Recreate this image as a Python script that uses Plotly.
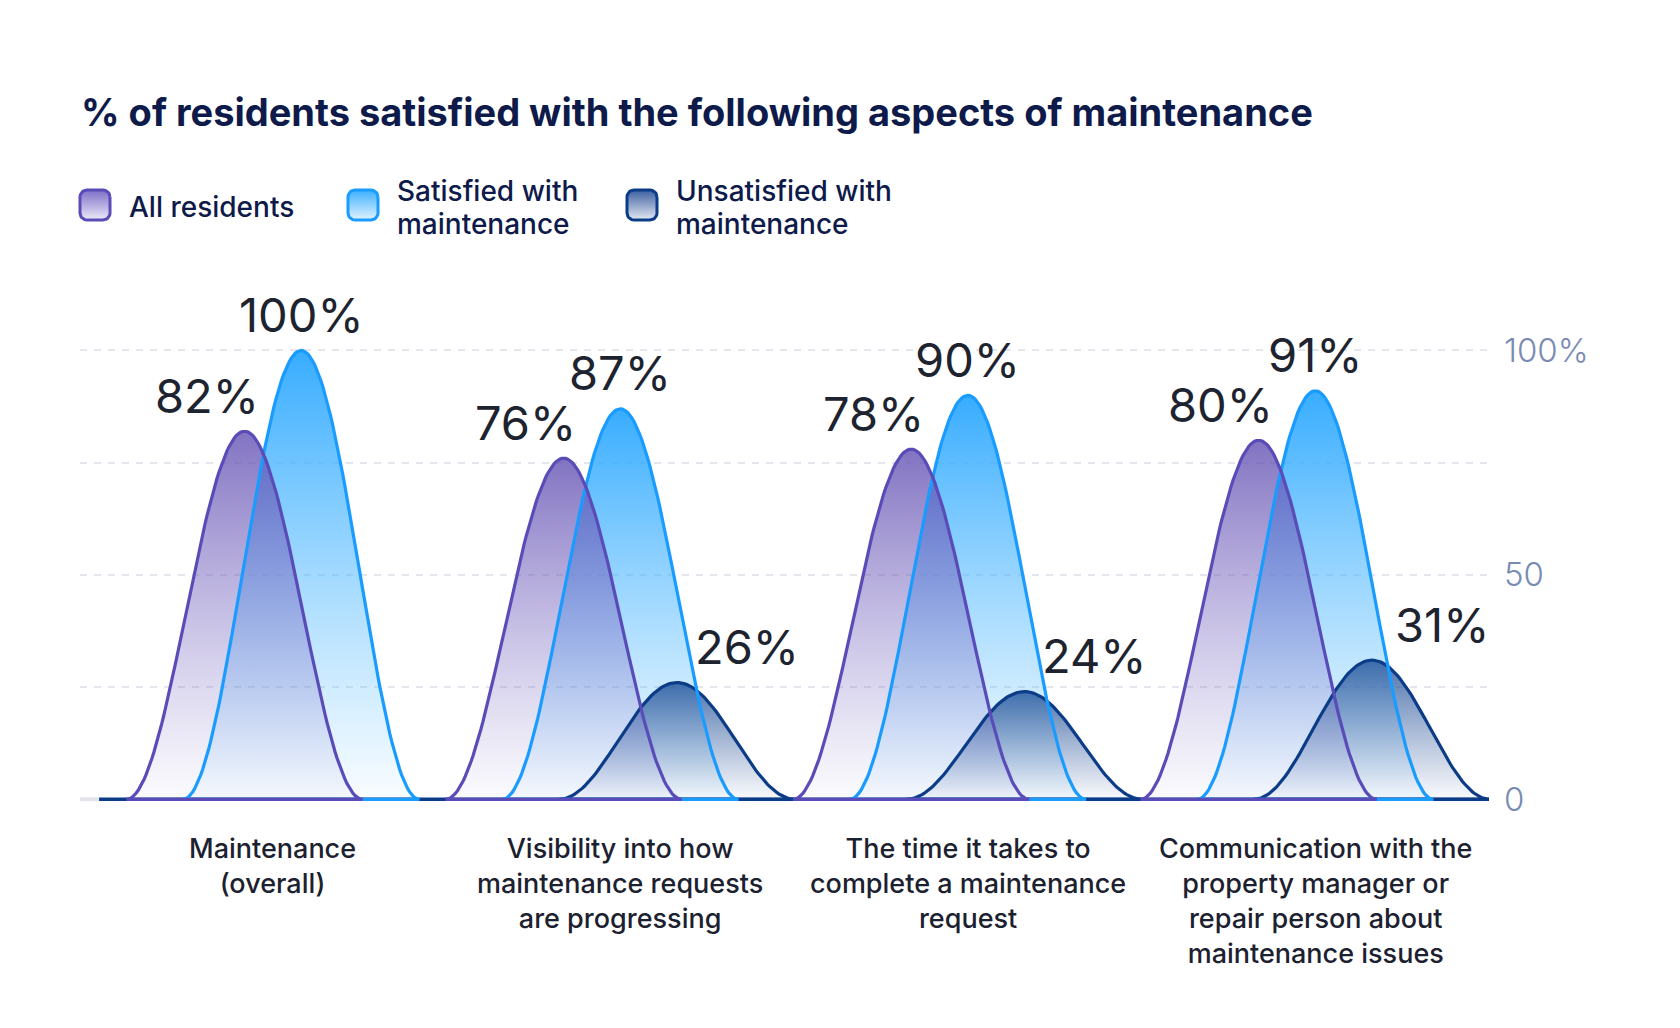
import numpy as np
import plotly.graph_objects as go

# ---------------- data ----------------
categories = [
    "Maintenance<br>(overall)",
    "Visibility into how<br>maintenance requests<br>are progressing",
    "The time it takes to<br>complete a maintenance<br>request",
    "Communication with the<br>property manager or<br>repair person about<br>maintenance issues",
]
all_residents = [82, 76, 78, 80]
satisfied = [100, 87, 90, 91]
unsatisfied = [None, 26, 24, 31]
series_names = ["All residents", "Satisfied with<br>maintenance", "Unsatisfied with<br>maintenance"]
y_tick_vals = [0, 25, 50, 75, 100]
y_tick_text = ["0", "", "50", "", "100%"]
title_text = "% of residents satisfied with the following aspects of maintenance"

series_values = [all_residents, satisfied, unsatisfied]

# ---------------- layout constants ----------------
W, H = 1680, 1028
ML, MR, MT, MB = 60, 180, 150, 224
PW, PH = W - ML - MR, H - MT - MB


def px_x(x):
    return (x - ML) / PW


def px_y(y):
    return (H - MB - y) / PH


STEP = 0.163   # offset between neighbouring bumps (category units)
HW = 0.34      # half width of a bump (category units)

FONT = "Inter"
styles = [
    dict(line="#5a4cb8", top="rgba(98,80,178,0.80)", bot="rgba(140,125,205,0.03)", dx=-38,
         icon_top="rgba(120,104,196,0.95)", icon_bot="rgba(238,235,250,1)"),
    dict(line="#1a9cff", top="rgba(45,168,255,0.95)", bot="rgba(90,190,255,0.04)", dx=0,
         icon_top="rgba(60,175,255,1)", icon_bot="rgba(226,243,255,1)"),
    dict(line="#0c3c88", top="rgba(28,78,150,0.80)", bot="rgba(60,95,160,0.03)", dx=70,
         icon_top="rgba(60,96,160,1)", icon_bot="rgba(228,233,243,1)"),
]

t = np.linspace(-1, 1, 121)
prof = (1 + np.cos(np.pi * t)) / 2

fig = go.Figure()

# bump geometry per group
bumps = []  # (series, cx, v)
for i in range(len(categories)):
    present = [s for s in range(3) if series_values[s][i] is not None]
    k = len(present)
    for j, s in enumerate(present):
        cx = i + (j - (k - 1) / 2) * STEP
        bumps.append((s, cx, series_values[s][i]))

# fills (blue, dark, purple)
for s in [1, 2, 0]:
    st = styles[s]
    for (ss, cx, v) in bumps:
        if ss != s:
            continue
        fig.add_trace(go.Scatter(
            x=cx + HW * t, y=v * prof, mode="lines", fill="toself",
            line=dict(width=0, color="rgba(0,0,0,0)"),
            fillgradient=dict(type="vertical", colorscale=[[0, st["bot"]], [1, st["top"]]]),
            hoverinfo="skip", showlegend=False, xaxis="x", yaxis="y"))

# baseline pieces
fig.add_trace(go.Scatter(x=[-0.555, -0.5], y=[0, 0], mode="lines",
                         line=dict(color="#e3e5eb", width=4), hoverinfo="skip", showlegend=False))
fig.add_trace(go.Scatter(x=[-0.5, 3.5], y=[0, 0], mode="lines",
                         line=dict(color="#0c3c88", width=3.5), hoverinfo="skip", showlegend=False))

# outlines (dark, blue, purple on top)
for s in [2, 1, 0]:
    st = styles[s]
    for (ss, cx, v) in bumps:
        if ss != s:
            continue
        xs = np.concatenate([cx + HW * t, [cx - HW]])
        ys = np.concatenate([v * prof, [0]])
        fig.add_trace(go.Scatter(
            x=xs, y=ys, mode="lines", line=dict(color=st["line"], width=3.2),
            hoverinfo="skip", showlegend=False))

annotations = []
# value labels
for (s, cx, v) in bumps:
    annotations.append(dict(
        x=cx, y=v, xref="x", yref="y", text=f"{v}%", showarrow=False,
        xshift=styles[s]["dx"], yshift=36, xanchor="center", yanchor="middle",
        font=dict(family=FONT, size=47, color="#1e2330", weight=400)))

# category labels
for i, c in enumerate(categories):
    annotations.append(dict(
        x=i, y=0, xref="x", yref="y", text=c, showarrow=False,
        yshift=-31, xanchor="center", yanchor="top", align="center",
        font=dict(family=FONT, size=27, color="#1c2130", weight=500)))

# title
annotations.append(dict(
    x=px_x(79), y=px_y(112), xref="paper", yref="paper", text=title_text, showarrow=False,
    xanchor="left", yanchor="middle",
    font=dict(family=FONT, size=38, color="#0e1a4a", weight=700)))

# legend icons on an auxiliary axis pair (pixel-like coordinates)
def rounded_rect(x0, y0, x1, y1, r, n=10):
    xs, ys = [], []
    for (cx, cy, a0) in [(x1 - r, y1 - r, 0), (x0 + r, y1 - r, 90), (x0 + r, y0 + r, 180), (x1 - r, y0 + r, 270)]:
        a = np.radians(np.linspace(a0, a0 + 90, n))
        xs.extend(cx + r * np.cos(a))
        ys.extend(cy + r * np.sin(a))
    xs.append(xs[0])
    ys.append(ys[0])
    return xs, ys


icon_x = [80, 348, 627]
text_x = [128, 396, 675]
legend_line_y = {0: [207], 1: [191, 224], 2: [191, 224]}
for s in range(3):
    st = styles[s]
    xs, ys = rounded_rect(icon_x[s], -220, icon_x[s] + 30, -190, 7)
    fig.add_trace(go.Scatter(
        x=xs, y=ys, mode="lines", fill="toself", line=dict(color=st["line"], width=3),
        fillgradient=dict(type="vertical", colorscale=[[0, st["icon_bot"]], [1, st["icon_top"]]]),
        hoverinfo="skip", showlegend=False, xaxis="x2", yaxis="y2"))
    for line, yy in zip(series_names[s].split("<br>"), legend_line_y[s]):
        annotations.append(dict(
            x=px_x(text_x[s]), y=px_y(yy), xref="paper", yref="paper", text=line,
            showarrow=False, xanchor="left", yanchor="middle", align="left",
            height=32, borderpad=0, valign="middle",
            font=dict(family=FONT, size=28, color="#0e1a4a", weight=500)))

fig.update_layout(
    width=W, height=H,
    margin=dict(l=ML, r=MR, t=MT, b=MB),
    paper_bgcolor="white", plot_bgcolor="white",
    showlegend=False,
    annotations=annotations,
    xaxis=dict(domain=[px_x(80), px_x(1489)], range=[-0.555, 3.5], visible=False, fixedrange=True),
    yaxis=dict(domain=[0, px_y(304.7)], range=[-1.05, 110.2], side="right", anchor="x",
               tickvals=y_tick_vals, ticktext=y_tick_text, showgrid=True,
               gridcolor="#e4e6ed", gridwidth=2, griddash="7px,7px",
               zeroline=False, showline=False, ticks="", ticklabelstandoff=14,
               tickfont=dict(family=FONT, size=33, color="#7a8bb3", weight=300), fixedrange=True),
    xaxis2=dict(domain=[0, 1], range=[ML, W - MR], visible=False, anchor="y2", fixedrange=True),
    yaxis2=dict(domain=[px_y(240), px_y(170)], range=[-240, -170], visible=False, anchor="x2",
                fixedrange=True),
)

fig.write_html("out.html")
